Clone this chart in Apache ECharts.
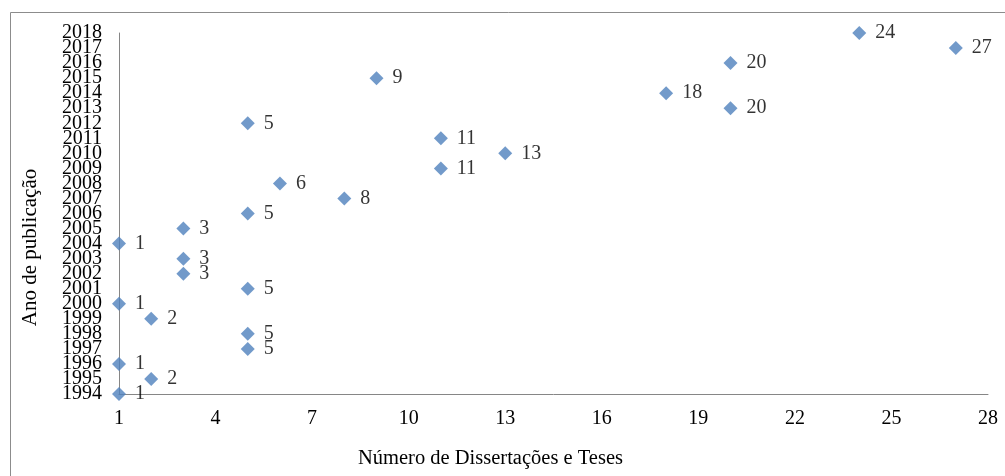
<!DOCTYPE html>
<html>
<head>
<meta charset="utf-8">
<script src="https://cdn.jsdelivr.net/npm/echarts@6/dist/echarts.min.js"></script>
<style>
html,body{margin:0;padding:0;background:#fff;}
#c{width:1005px;height:476px;}
</style>
</head>
<body>
<div id="c"></div>
<script>
const years = [1994,1995,1996,1997,1998,1999,2000,2001,2002,2003,2004,2005,2006,2007,2008,2009,2010,2011,2012,2013,2014,2015,2016,2017,2018];
const counts = [1,2,1,5,5,2,1,5,3,3,1,3,5,8,6,11,13,11,5,20,18,9,20,27,24];
const xTicks = [1,4,7,10,13,16,19,22,25,28];
const xTitle = 'Número de Dissertações e Teses';
const yTitle = 'Ano de publicação';

const font = '"Liberation Serif", "Times New Roman", serif';
const yearsEven = years.filter((y, i) => i % 2 === 0);
const yearsOdd = years.filter((y, i) => i % 2 === 1);
const yLabel = vals => ({customValues: vals, fontFamily: font, fontSize: 20, color: '#000', margin: 17,
  hideOverlap: false, showMinLabel: true, showMaxLabel: true, formatter: v => String(v)});

const chart = echarts.init(document.getElementById('c'));
chart.setOption({
  animation: false,
  backgroundColor: '#fff',
  graphic: [{
    type: 'polyline',
    shape: {points: [[10.5, 480], [10.5, 12.5], [1010, 12.5]]},
    style: {stroke: '#8c8c8c', lineWidth: 1, fill: null}
  }],
  grid: {left: 119, right: 17, top: 33, bottom: 82, containLabel: false, outerBoundsMode: 'none'},
  xAxis: {
    type: 'value', min: 1, max: 28, interval: 3,
    name: xTitle, nameLocation: 'middle', nameGap: 54,
    nameTextStyle: {fontFamily: font, fontSize: 20.5, color: '#000', padding: [0, 126, 0, 0]},
    axisLine: {show: true, lineStyle: {color: '#868686', width: 1}},
    axisTick: {show: false, customValues: xTicks},
    axisLabel: {customValues: xTicks, fontFamily: font, fontSize: 20, color: '#000', margin: 15},
    splitLine: {show: false}
  },
  yAxis: [{
    type: 'value', min: 1994, max: 2018, interval: 1, position: 'left',
    name: yTitle, nameLocation: 'middle', nameGap: 78,
    nameTextStyle: {fontFamily: font, fontSize: 21, color: '#000', padding: [0, 68, 0, 0]},
    axisLine: {show: true, onZero: false, lineStyle: {color: '#868686', width: 1}},
    axisTick: {show: false},
    axisLabel: yLabel(yearsEven),
    splitLine: {show: false}
  }, {
    type: 'value', min: 1994, max: 2018, interval: 1, position: 'left', offset: 0,
    axisLine: {show: false, onZero: false},
    axisTick: {show: false},
    axisLabel: yLabel(yearsOdd),
    splitLine: {show: false}
  }],
  series: [{
    type: 'scatter',
    symbol: 'diamond',
    symbolSize: 14,
    itemStyle: {color: '#4F81BD'},
    data: years.map((y, i) => [counts[i], y]),
    label: {
      show: true, position: 'right', distance: 9,
      formatter: p => String(p.value[0]),
      fontFamily: font, fontSize: 20, color: '#000'
    }
  }]
});
</script>
</body>
</html>
